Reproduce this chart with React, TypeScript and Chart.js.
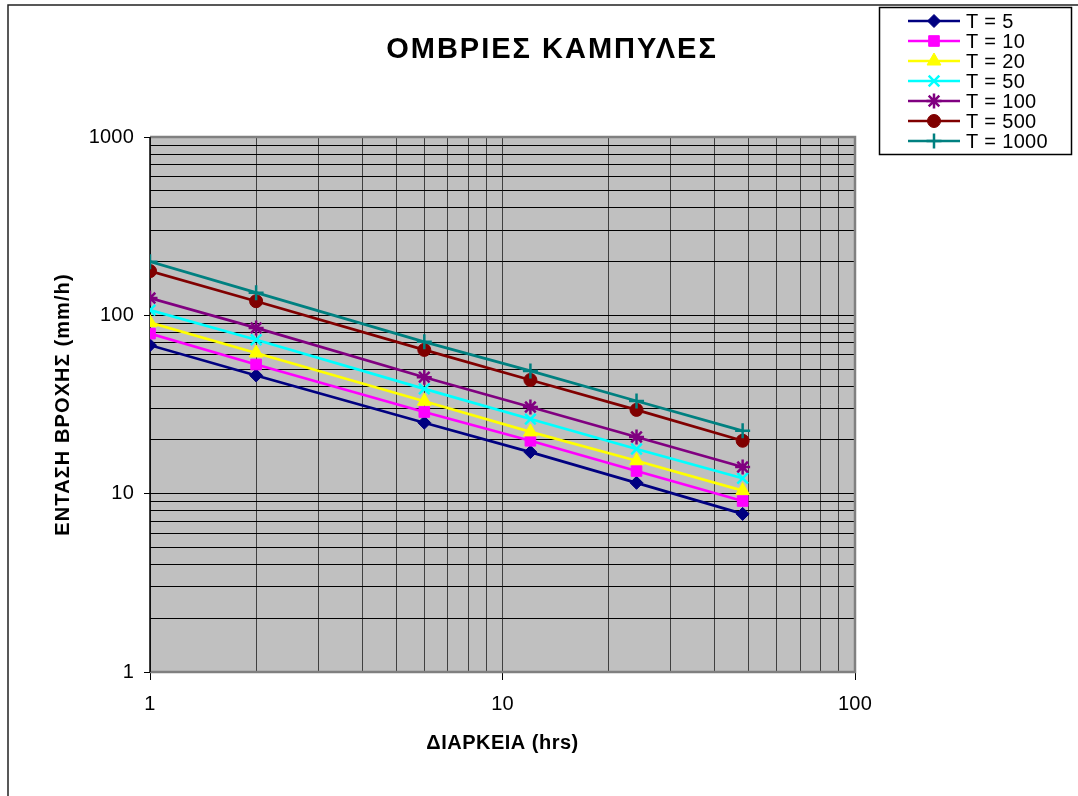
import React, { useEffect, useRef } from 'react';
import { Chart, registerables } from 'chart.js';
import { drawPoint } from 'chart.js/helpers';

Chart.register(...registerables);

// ---------- DATA ----------
const durations = [1, 2, 6, 12, 24, 48];
const T5 = [68, 46, 25, 17.1, 11.5, 7.7];
const T10 = [79, 53, 28.7, 19.8, 13.4, 9.1];
const T20 = [91, 61.5, 33, 22.2, 15.3, 10.4];
const T50 = [107, 73, 38.7, 26.2, 17.8, 12.2];
const T100 = [125, 85, 45, 30.6, 20.8, 14.1];
const T500 = [177, 120, 64, 43.4, 29.5, 19.8];
const T1000 = [200, 134, 71, 48.8, 33.1, 22.5];

const seriesValues = [T5, T10, T20, T50, T100, T500, T1000];
const seriesLabels = ['T = 5', 'T = 10', 'T = 20', 'T = 50', 'T = 100', 'T = 500', 'T = 1000'];
const seriesColors = ['#000080', '#FF00FF', '#FFFF00', '#00FFFF', '#800080', '#800000', '#008080'];
const seriesPointStyles = ['rectRot', 'rect', 'triangle', 'crossRot', 'star', 'circle', 'cross'];
const seriesRadius = [6.5, 7.5, 8, 7.5, 7.5, 6.5, 7.5];

const xTickValues = [1, 2, 3, 4, 5, 6, 7, 8, 9, 10, 20, 30, 40, 50, 60, 70, 80, 90, 100];
const yTickValues = [
  1, 2, 3, 4, 5, 6, 7, 8, 9, 10, 20, 30, 40, 50, 60, 70, 80, 90,
  100, 200, 300, 400, 500, 600, 700, 800, 900, 1000,
];
const xMajor = [1, 10, 100];
const yMajor = [1, 10, 100, 1000];

const chartTitle = 'ΟΜΒΡΙΕΣ ΚΑΜΠΥΛΕΣ';
const xTitle = 'ΔΙΑΡΚΕΙΑ (hrs)';
const yTitle = 'ΕΝΤΑΣΗ ΒΡΟΧΗΣ (mm/h)';

const FONT = '"Liberation Sans", Arial, sans-serif';
const LS = '0.2px';

const setLS = (chart: any) => {
  (chart.ctx as any).letterSpacing = LS;
};

const decorPlugin = {
  id: 'excelDecor',
  beforeUpdate: setLS,
  beforeLayout: setLS,
  beforeDraw(chart: any) {
    setLS(chart);
    const { ctx, chartArea: a } = chart;
    ctx.save();
    ctx.fillStyle = '#FFFFFF';
    ctx.fillRect(0, 0, chart.width, chart.height);
    ctx.fillStyle = '#C0C0C0';
    ctx.fillRect(a.left, a.top, a.right - a.left, a.bottom - a.top);
    ctx.restore();
  },
  beforeDatasetsDraw(chart: any) {
    const { ctx, chartArea: a } = chart;
    ctx.save();
    ctx.strokeStyle = '#808080';
    ctx.lineWidth = 2.5;
    ctx.beginPath();
    ctx.moveTo(a.left, a.top);
    ctx.lineTo(a.right, a.top);
    ctx.lineTo(a.right, a.bottom);
    ctx.lineTo(a.left, a.bottom);
    ctx.stroke();
    ctx.strokeStyle = '#000000';
    ctx.lineWidth = 1.5;
    ctx.beginPath();
    ctx.moveTo(a.left, a.top);
    ctx.lineTo(a.left, a.bottom);
    ctx.stroke();
    ctx.restore();
  },
  afterDraw(chart: any) {
    const { ctx, chartArea: a } = chart;
    ctx.save();
    // outer frame
    ctx.strokeStyle = '#222222';
    ctx.lineWidth = 1.5;
    ctx.beginPath();
    ctx.moveTo(8, chart.height);
    ctx.lineTo(8, 5);
    ctx.lineTo(chart.width, 5);
    ctx.stroke();

    // title
    ctx.fillStyle = '#000000';
    ctx.textAlign = 'center';
    ctx.textBaseline = 'middle';
    (ctx as any).letterSpacing = '2px';
    ctx.font = `bold 29px ${FONT}`;
    ctx.fillText(chartTitle, 552, 50);

    // axis titles
    (ctx as any).letterSpacing = '0.5px';
    ctx.font = `bold 20px ${FONT}`;
    ctx.fillText(xTitle, (a.left + a.right) / 2, 743);
    (ctx as any).letterSpacing = '1.1px';
    ctx.save();
    ctx.translate(63, (a.top + a.bottom) / 2);
    ctx.rotate(-Math.PI / 2);
    ctx.fillText(yTitle, 0, 0);
    ctx.restore();

    // legend
    (ctx as any).letterSpacing = '0.3px';
    const bx = 879, by = 7, bw = 192, bh = 147;
    ctx.fillStyle = '#FFFFFF';
    ctx.fillRect(bx, by, bw, bh);
    ctx.strokeStyle = '#000000';
    ctx.lineWidth = 1.5;
    ctx.strokeRect(bx + 0.5, by + 0.5, bw, bh);
    ctx.font = `20px ${FONT}`;
    ctx.textAlign = 'left';
    ctx.textBaseline = 'middle';
    chart.data.datasets.forEach((ds: any, i: number) => {
      const y = 21 + i * 20;
      ctx.strokeStyle = ds.borderColor;
      ctx.lineWidth = 2.5;
      ctx.beginPath();
      ctx.moveTo(908, y);
      ctx.lineTo(960, y);
      ctx.stroke();
      ctx.fillStyle = ds.pointBackgroundColor;
      ctx.strokeStyle = ds.pointBorderColor;
      ctx.lineWidth = ds.pointBorderWidth;
      drawPoint(ctx, { pointStyle: ds.pointStyle, radius: ds.pointRadius, rotation: 0, borderWidth: ds.pointBorderWidth } as any, 934, y);
      ctx.fillStyle = '#000000';
      ctx.fillText(ds.label, 966, y + 1);
    });
    ctx.restore();
  },
};

export default function App() {
  const canvasRef = useRef<HTMLCanvasElement | null>(null);

  useEffect(() => {
    const canvas = canvasRef.current;
    if (!canvas) return;

    const datasets = seriesValues.map((vals, i) => {
      const isStroke = ['crossRot', 'star', 'cross'].includes(seriesPointStyles[i]);
      return {
        label: seriesLabels[i],
        data: durations.map((d, j) => ({ x: d, y: vals[j] })),
        borderColor: seriesColors[i],
        backgroundColor: seriesColors[i],
        pointBackgroundColor: seriesColors[i],
        pointBorderColor: seriesColors[i],
        pointBorderWidth: isStroke ? 2.5 : 1,
        pointStyle: seriesPointStyles[i],
        pointRadius: seriesRadius[i],
        borderWidth: 2.7,
        tension: 0,
        fill: false,
        order: seriesValues.length - 1 - i,
      };
    });

    const chart = new Chart(canvas, {
      type: 'line',
      data: { datasets },
      options: {
        responsive: false,
        animation: false,
        devicePixelRatio: 1,
        layout: { padding: { left: 0, top: 137, right: 223, bottom: 64 } },
        plugins: {
          legend: { display: false },
          title: { display: false },
          tooltip: { enabled: false },
        },
        scales: {
          x: {
            type: 'logarithmic',
            min: 1,
            max: 100,
            afterBuildTicks: (scale: any) => {
              scale.ticks = xTickValues.map((v) => ({ value: v, major: xMajor.includes(v) }));
            },
            afterFit: (scale: any) => {
              scale.height = 60;
            },
            border: { display: false },
            grid: {
              color: '#404040',
              lineWidth: 1,
              tickLength: 8,
              tickColor: (ctx: any) => (ctx.tick && xMajor.includes(ctx.tick.value) ? '#000000' : 'rgba(0,0,0,0)'),
            },
            ticks: {
              autoSkip: false,
              maxRotation: 0,
              padding: 12,
              color: '#000000',
              font: { family: FONT, size: 20 },
              callback: (value: any) => (xMajor.includes(Number(value)) ? String(value) : ''),
            },
          },
          y: {
            type: 'logarithmic',
            min: 1,
            max: 1000,
            afterBuildTicks: (scale: any) => {
              scale.ticks = yTickValues.map((v) => ({ value: v, major: yMajor.includes(v) }));
            },
            afterFit: (scale: any) => {
              scale.width = 150;
            },
            border: { display: false },
            grid: {
              color: '#000000',
              lineWidth: 1,
              tickLength: 6,
              tickColor: (ctx: any) => (ctx.tick && yMajor.includes(ctx.tick.value) ? '#000000' : 'rgba(0,0,0,0)'),
            },
            ticks: {
              autoSkip: false,
              padding: 10,
              color: '#000000',
              font: { family: FONT, size: 20 },
              callback: (value: any) => (yMajor.includes(Number(value)) ? String(value) : ''),
            },
          },
        },
      },
      plugins: [decorPlugin],
    } as any);

    return () => chart.destroy();
  }, []);

  return (
    <div style={{ position: 'absolute', left: 0, top: 0, width: 1078, height: 796 }}>
      <canvas ref={canvasRef} width={1078} height={796} style={{ width: 1078, height: 796, display: 'block' }} />
    </div>
  );
}
